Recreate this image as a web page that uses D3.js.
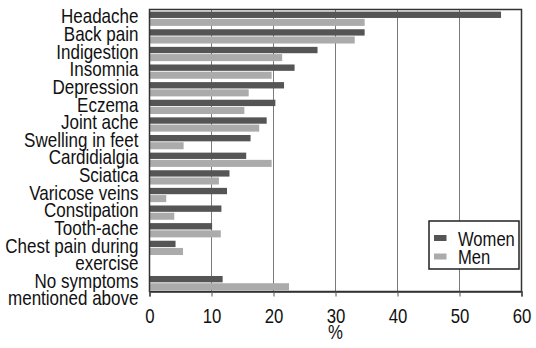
<!DOCTYPE html>
<html>
<head>
<meta charset="utf-8">
<script src="https://cdn.jsdelivr.net/npm/d3@7"></script>
<style>
  body { margin: 0; background: #fff; }
  text { font-family: "Liberation Sans", Arial, sans-serif; fill: #111; }
</style>
</head>
<body>
<div id="chart"></div>
<script>
// data
const categories = ['Headache', 'Back pain', 'Indigestion', 'Insomnia', 'Depression', 'Eczema',
    'Joint ache', 'Swelling in feet', 'Cardidialgia', 'Sciatica', 'Varicose veins',
    'Constipation', 'Tooth-ache', 'Chest pain during exercise', 'No symptoms mentioned above'];
const labelLines = [['Headache'], ['Back pain'], ['Indigestion'], ['Insomnia'], ['Depression'], ['Eczema'],
    ['Joint ache'], ['Swelling in feet'], ['Cardidialgia'], ['Sciatica'], ['Varicose veins'],
    ['Constipation'], ['Tooth-ache'], ['Chest pain during', 'exercise'], ['No symptoms', 'mentioned above']];
const women = [56.7, 34.7, 27.1, 23.4, 21.7, 20.3, 18.9, 16.3, 15.6, 12.9, 12.5, 11.6, 10.1, 4.2, 11.8];
const men = [34.7, 33.1, 21.4, 19.7, 16.0, 15.3, 17.7, 5.5, 19.7, 11.2, 2.7, 4.0, 11.5, 5.4, 22.5];
const xTicks = [0, 10, 20, 30, 40, 50, 60];
const seriesNames = ['Women', 'Men'];
const seriesColors = ['#555555', '#ababab'];

const width = 536, height = 348;
const margin = { top: 9.5, right: 14.5, bottom: 56.5, left: 149.5 };
const graphWidth = width - margin.left - margin.right;
const graphHeight = height - margin.top - margin.bottom;

// condensed look: squeeze a regular sans horizontally
const narrow = 0.84;

// the second-to-last label wraps into an empty slot
const slots = categories.slice(0, 14).concat(['_gap'], categories.slice(14));

const svg = d3.select('#chart')
    .append('svg')
    .attr('width', width)
    .attr('height', height);

const graph = svg.append('g')
    .attr('transform', `translate(${margin.left}, ${margin.top})`);

const x = d3.scaleLinear()
    .domain([0, 60])
    .range([0, graphWidth]);

const y = d3.scaleBand()
    .domain(slots)
    .range([0, graphHeight]);

const step = y.bandwidth();

// grid lines
graph.append('g')
    .selectAll('line')
    .data(xTicks.slice(1, -1))
    .enter()
    .append('line')
    .attr('x1', d => x(d))
    .attr('x2', d => x(d))
    .attr('y1', 0)
    .attr('y2', graphHeight)
    .attr('stroke', '#7a7a7a')
    .attr('stroke-width', 1);

// bars
const rows = categories.map((c, i) => ({ cat: c, women: women[i], men: men[i] }));

graph.append('g')
    .selectAll('rect')
    .data(rows)
    .enter()
    .append('rect')
    .attr('x', 0)
    .attr('y', d => y(d.cat) + step * 0.12)
    .attr('width', d => x(d.women))
    .attr('height', step * 0.36)
    .attr('fill', seriesColors[0]);

graph.append('g')
    .selectAll('rect')
    .data(rows)
    .enter()
    .append('rect')
    .attr('x', 0)
    .attr('y', d => y(d.cat) + step * 0.53)
    .attr('width', d => x(d.men))
    .attr('height', step * 0.40)
    .attr('fill', seriesColors[1]);

// frame
graph.append('rect')
    .attr('x', 0)
    .attr('y', 0)
    .attr('width', graphWidth)
    .attr('height', graphHeight)
    .attr('fill', 'none')
    .attr('stroke', '#333')
    .attr('stroke-width', 1.5);

// x axis
const xAxis = d3.axisBottom(x)
    .tickValues(xTicks)
    .tickSize(5)
    .tickPadding(12);

const xAxisGroup = graph.append('g')
    .attr('transform', `translate(0, ${graphHeight})`)
    .call(xAxis);
xAxisGroup.select('.domain').attr('stroke', '#333').attr('stroke-width', 1.5);
xAxisGroup.selectAll('.tick line').attr('stroke', '#555');
xAxisGroup.selectAll('.tick text')
    .attr('font-size', '20px')
    .attr('font-family', null)
    .attr('transform', `scale(${narrow}, 1)`)
    .style('fill', '#111');

graph.append('text')
    .attr('transform', `translate(${graphWidth / 2}, ${graphHeight + 47}) scale(${narrow}, 1)`)
    .attr('text-anchor', 'middle')
    .attr('font-size', '20px')
    .text('%');

// category labels
const labels = graph.append('g')
    .selectAll('text')
    .data(categories)
    .enter()
    .append('text')
    .attr('text-anchor', 'end')
    .attr('font-size', '20.5px')
    .attr('transform', d => `translate(-11, ${y(d) + step / 2 - 2}) scale(0.83, 1)`);

labels.selectAll('tspan')
    .data((d, i) => labelLines[i])
    .enter()
    .append('tspan')
    .attr('x', 0)
    .attr('y', (d, j) => j * step)
    .attr('dy', '0.35em')
    .text(d => d);

// legend
const legend = svg.append('g')
    .attr('transform', 'translate(429, 221)');

legend.append('rect')
    .attr('width', 90)
    .attr('height', 48)
    .attr('fill', '#fff')
    .attr('stroke', '#222')
    .attr('stroke-width', 1.5);

const items = legend.selectAll('.item')
    .data(seriesNames)
    .enter()
    .append('g')
    .attr('class', 'item')
    .attr('transform', (d, i) => `translate(0, ${i * 18.5})`);

items.append('rect')
    .attr('x', 5)
    .attr('y', 14)
    .attr('width', 12.5)
    .attr('height', 6)
    .attr('fill', (d, i) => seriesColors[i]);

items.append('text')
    .attr('transform', `translate(29, 24.5) scale(0.83, 1)`)
    .attr('font-size', '20px')
    .text(d => d);
</script>
</body>
</html>
